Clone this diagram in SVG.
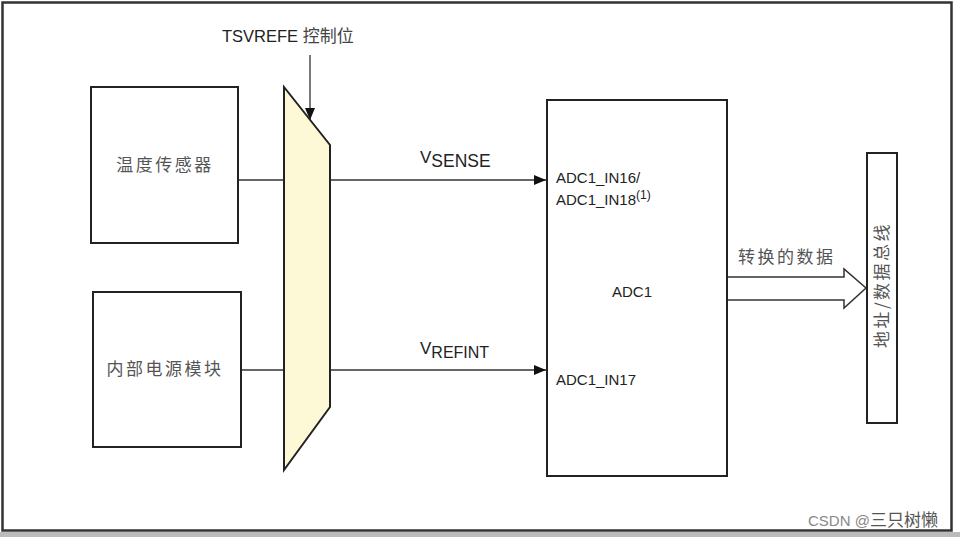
<svg xmlns="http://www.w3.org/2000/svg" width="960" height="537" viewBox="0 0 960 537">
<style>
.box{fill:#fff;stroke:#222;stroke-width:2}
.ln{stroke:#333;stroke-width:1.3;fill:none}
.en{font-family:"Liberation Sans",Arial,sans-serif;fill:#222}
.cn{font-family:"Noto Sans CJK SC",sans-serif;fill:#555;letter-spacing:2.5px}
</style>
<defs>
<marker id="ah" viewBox="0 0 12 10" refX="12" refY="5" markerWidth="12" markerHeight="10" markerUnits="userSpaceOnUse" orient="auto">
<path d="M0,0 L12,5 L0,10 Z" fill="#111"/>
</marker>
</defs>
<rect x="0" y="0" width="960" height="537" fill="#fff"/>
<rect x="0" y="532" width="960" height="5" fill="#bbb"/>
<rect x="2.5" y="2.5" width="949" height="528" fill="none" stroke="#333" stroke-width="2.5"/>

<g id="connectors">
<line class="ln" x1="238" y1="180" x2="284" y2="180"/>
<line class="ln" x1="241" y1="370" x2="284" y2="370"/>
<line class="ln" x1="330" y1="180" x2="546" y2="180" marker-end="url(#ah)"/>
<line class="ln" x1="330" y1="370" x2="546" y2="370" marker-end="url(#ah)"/>
<line class="ln" x1="310" y1="55" x2="310" y2="120" marker-end="url(#ah)" stroke-width="1.6"/>
<path d="M727,277 H844 V269 L866,288 L844,308 V300 H727" fill="#fff" stroke="#333" stroke-width="1.5"/>
</g>

<g id="temp-sensor">
<rect class="box" x="91" y="87" width="147" height="156"/>
<text class="cn" x="165" y="171" font-size="17" text-anchor="middle">温度传感器</text>
</g>

<g id="power-module">
<rect class="box" x="93" y="292" width="148" height="155"/>
<text class="cn" x="165" y="375" font-size="17" text-anchor="middle">内部电源模块</text>
</g>

<g id="mux">
<path d="M284,87 L330,145 L330,407 L284,470 Z" fill="#fdf8d6" stroke="#222" stroke-width="2"/>
</g>

<g id="tsvrefe-label">
<text class="en" x="222" y="42" font-size="16.5">TSVREFE <tspan font-family="Noto Sans CJK SC,sans-serif" fill="#444" font-size="17">控制位</tspan></text>
</g>

<g id="adc1">
<rect class="box" x="547" y="100" width="180" height="376"/>
<text class="en" x="556" y="183" font-size="15">ADC1_IN16/</text>
<text class="en" x="556" y="205" font-size="15">ADC1_IN18<tspan font-size="12" dy="-6">(1)</tspan></text>
<text class="en" x="612" y="297" font-size="15">ADC1</text>
<text class="en" x="556" y="385" font-size="15">ADC1_IN17</text>
</g>

<g id="signal-labels">
<text class="en" x="420" y="163" font-size="17">V<tspan dy="4" font-size="17.5">SENSE</tspan></text>
<text class="en" x="420" y="354" font-size="17">V<tspan dy="4" font-size="16">REFINT</tspan></text>
<text class="cn" x="738" y="263" font-size="17" fill="#444">转换的数据</text>
</g>

<g id="bus">
<rect class="box" x="867" y="153" width="30" height="270"/>
<text class="cn" x="0" y="0" font-size="17" fill="#444" text-anchor="middle" transform="translate(888,285) rotate(-90)">地址/数据总线</text>
</g>

<text x="808" y="526" font-family="Liberation Sans,Arial,sans-serif" font-size="15" fill="#888">CSDN @<tspan font-family="Noto Sans CJK SC,sans-serif" fill="#555" font-size="17">三只树懒</tspan></text>
</svg>
